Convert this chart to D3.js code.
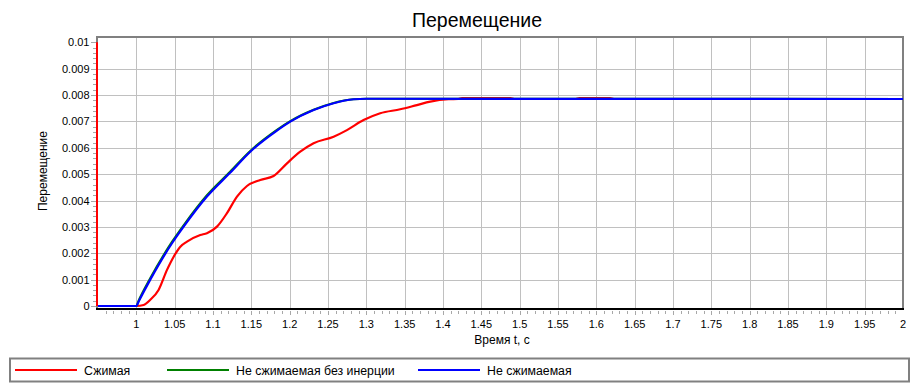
<!DOCTYPE html>
<html>
<head>
<meta charset="utf-8">
<script src="https://cdn.jsdelivr.net/npm/d3@7"></script>
<style>
  body { margin: 0; background: #fff; }
  svg { display: block; font-family: "Liberation Sans", Arial, sans-serif; }
</style>
</head>
<body>
<svg id="chart" width="913" height="390"></svg>
<script>
// Data
var title = "Перемещение";
var xLabel = "Время t, с";
var yLabel = "Перемещение";
var seriesNames = ["Сжимая", "Не сжимаемая без инерции", "Не сжимаемая"];
var seriesColors = ["#ff0000", "#008000", "#0000ff"];

var xTicks = [1, 1.05, 1.1, 1.15, 1.2, 1.25, 1.3, 1.35, 1.4, 1.45, 1.5, 1.55,
  1.6, 1.65, 1.7, 1.75, 1.8, 1.85, 1.9, 1.95, 2];
var xTickLabels = ["1", "1.05", "1.1", "1.15", "1.2", "1.25", "1.3", "1.35", "1.4", "1.45", "1.5", "1.55",
  "1.6", "1.65", "1.7", "1.75", "1.8", "1.85", "1.9", "1.95", "2"];
var yTicks = [0, 0.001, 0.002, 0.003, 0.004, 0.005, 0.006, 0.007, 0.008, 0.009, 0.01];
var yTickLabels = ["0", "0.001", "0.002", "0.003", "0.004", "0.005", "0.006", "0.007", "0.008", "0.009", "0.01"];

// "Сжимая"
var tRed = [0.95, 1.0, 1.0095, 1.018, 1.029, 1.040, 1.0487, 1.0574, 1.0661, 1.0834, 1.0921,
  1.1052, 1.1182, 1.1313, 1.1443, 1.1617, 1.179, 1.1965, 1.2138, 1.2312, 1.2573, 1.2747,
  1.2964, 1.3181, 1.3442, 1.3659, 1.3834, 1.4073, 1.42, 1.425, 1.488, 1.493, 1.573, 1.578,
  1.618, 1.623, 2.0];
var vRed = [0, 0, 0.00004, 0.00023, 0.00061, 0.00137, 0.00187, 0.00225, 0.00244, 0.00269, 0.00276,
  0.00301, 0.00352, 0.00415, 0.00455, 0.00478, 0.00493, 0.00541, 0.00585, 0.00617, 0.00642, 0.00667,
  0.00705, 0.00731, 0.00746, 0.00762, 0.00775, 0.00784, 0.00785, 0.00788, 0.00788, 0.00785, 0.00785, 0.00788,
  0.00788, 0.00785, 0.00785];

// "Не сжимаемая без инерции"
var tGreen = [0.95, 1.0, 1.003, 1.018, 1.0465, 1.0617, 1.0921, 1.1226, 1.1486, 1.1834, 1.2008,
  1.2312, 1.2573, 1.2833, 1.30, 2.0];
var vGreen = [0, 0, 0.0002, 0.00104, 0.00243, 0.00306, 0.0042, 0.0051, 0.00588, 0.00668, 0.00701,
  0.00744, 0.0077, 0.00784, 0.00786, 0.00785];

// "Не сжимаемая"
var tBlue = [0.95, 1.0, 1.003, 1.018, 1.0465, 1.0617, 1.0921, 1.1226, 1.1486, 1.1834, 1.2008,
  1.2312, 1.2573, 1.2833, 1.30, 2.0];
var vBlue = [0, 0, 0.00017, 0.00099, 0.00238, 0.00301, 0.00415, 0.00506, 0.00585, 0.00665, 0.00699,
  0.00743, 0.00769, 0.00784, 0.00786, 0.00785];

var series = [
  { name: seriesNames[0], color: seriesColors[0], t: tRed, v: vRed },
  { name: seriesNames[1], color: seriesColors[1], t: tGreen, v: vGreen },
  { name: seriesNames[2], color: seriesColors[2], t: tBlue, v: vBlue }
];

/* Layout */
var plotLeft = 98, plotRight = 903, plotTop = 37, plotBottom = 309;

var xScale = d3.scaleLinear().domain([0.95, 2]).range([plotLeft, plotRight]);
var yScale = d3.scaleLinear().domain([0, 0.01]).range([306, 42.3]);

var svg = d3.select("#chart");

/* Title */
svg.append("text")
  .attr("x", 477).attr("y", 27)
  .attr("text-anchor", "middle")
  .style("font-size", "19.5px")
  .text(title);

/* Grid */
var grid = svg.append("g").attr("stroke", "#c0c0c0").attr("stroke-width", 1);
grid.selectAll(".vgrid")
  .data(xTicks.filter(d => d < 2)).enter()
  .append("line")
  .attr("x1", d => Math.round(xScale(d)) + 0.5).attr("x2", d => Math.round(xScale(d)) + 0.5)
  .attr("y1", plotTop).attr("y2", plotBottom);
grid.selectAll(".hgrid")
  .data(yTicks.filter(d => d > 0 && d < 0.01)).enter()
  .append("line")
  .attr("x1", plotLeft).attr("x2", plotRight)
  .attr("y1", d => Math.round(yScale(d)) + 0.5).attr("y2", d => Math.round(yScale(d)) + 0.5);

/* Minor ticks */
var xMinor = d3.range(96, 200).map(d => d / 100);
svg.append("g").attr("stroke", "#a8a8a8").attr("stroke-width", 1)
  .selectAll("line").data(xMinor).enter()
  .append("line")
  .attr("x1", d => Math.round(xScale(d)) + 0.5).attr("x2", d => Math.round(xScale(d)) + 0.5)
  .attr("y1", plotBottom + 2).attr("y2", d => (Math.round(d * 100) % 5 === 0) ? plotBottom + 6 : plotBottom + 5);

var yMinor = d3.range(0, 51).map(d => d * 0.0002);
svg.append("g").attr("stroke", "#a8a8a8").attr("stroke-width", 1)
  .selectAll("line").data(yMinor).enter()
  .append("line")
  .attr("y1", d => Math.round(yScale(d)) + 0.5).attr("y2", d => Math.round(yScale(d)) + 0.5)
  .attr("x1", (d, i) => i % 5 === 0 ? 91 : 93).attr("x2", 96);

/* Frame */
svg.append("path")
  .attr("d", `M${plotLeft - 1},${plotBottom} V${plotTop} H${plotRight} V${plotBottom + 1}`)
  .attr("fill", "none").attr("stroke", "#808080").attr("stroke-width", 2);

/* Lines */
var line = d3.line()
  .x(d => xScale(d[0]))
  .y(d => yScale(d[1]))
  .curve(d3.curveMonotoneX);

svg.append("g").attr("class", "lines")
  .selectAll("path").data(series).enter()
  .append("path")
  .attr("d", s => line(s.t.map((t, i) => [t, s.v[i]])))
  .attr("fill", "none")
  .attr("stroke", s => s.color)
  .attr("stroke-width", 2.2)
  .attr("stroke-linejoin", "round");

/* Axes lines */
svg.append("line")
  .attr("x1", plotLeft - 1).attr("x2", plotLeft - 1)
  .attr("y1", yScale(0.01)).attr("y2", yScale(0))
  .attr("stroke", "#ff0000").attr("stroke-width", 2);
svg.append("line")
  .attr("x1", plotLeft - 2).attr("x2", plotRight + 1)
  .attr("y1", plotBottom).attr("y2", plotBottom)
  .attr("stroke", "#000").attr("stroke-width", 2);

/* Tick labels */
svg.append("g").selectAll("text")
  .data(xTicks).enter()
  .append("text")
  .attr("x", d => xScale(d))
  .attr("y", 327.5)
  .attr("text-anchor", "middle")
  .style("font-size", "11px")
  .text((d, i) => xTickLabels[i]);

svg.append("g").selectAll("text")
  .data(yTicks).enter()
  .append("text")
  .attr("x", 89.5)
  .attr("y", d => yScale(d) + 4)
  .attr("text-anchor", "end")
  .style("font-size", "11px")
  .text((d, i) => yTickLabels[i]);

/* Axis titles */
svg.append("text")
  .attr("x", 502).attr("y", 343.5)
  .attr("text-anchor", "middle")
  .style("font-size", "12px")
  .text(xLabel);

svg.append("text")
  .attr("transform", "translate(47,171) rotate(-90)")
  .attr("text-anchor", "middle")
  .style("font-size", "12px")
  .text(yLabel);

/* Legend */
svg.append("rect")
  .attr("x", 10).attr("y", 358.5).attr("width", 899).attr("height", 23)
  .attr("fill", "none").attr("stroke", "#808080").attr("stroke-width", 2);

var legendX = [15, 167, 418];
var legend = svg.append("g").selectAll("g")
  .data(series).enter()
  .append("g")
  .attr("transform", (d, i) => `translate(${legendX[i]},370)`);
legend.append("line")
  .attr("x1", 0).attr("x2", 62)
  .attr("stroke", d => d.color).attr("stroke-width", 2);
legend.append("text")
  .attr("x", 69).attr("y", 4.5)
  .style("font-size", "12.3px")
  .text(d => d.name);
</script>
</body>
</html>
